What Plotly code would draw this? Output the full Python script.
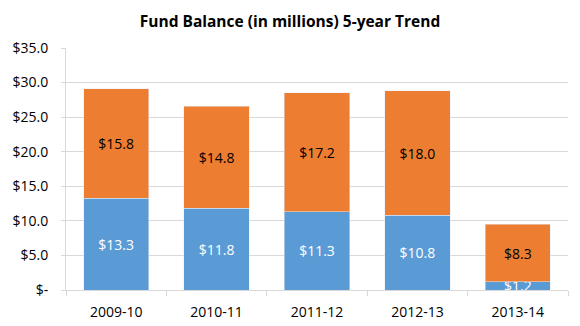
import plotly.graph_objects as go

years = ["2009-10", "2010-11", "2011-12", "2012-13", "2013-14"]
lower_vals = [13.3, 11.8, 11.3, 10.8, 1.2]
upper_vals = [15.8, 14.8, 17.2, 18.0, 8.3]
y_ticks = [0, 5, 10, 15, 20, 25, 30, 35]
y_tick_text = ["$-", "$5.0", "$10.0", "$15.0", "$20.0", "$25.0", "$30.0", "$35.0"]

FONT = "Open Sans, Liberation Sans, sans-serif"
GRID = "#D9D9D9"

fig = go.Figure()
fig.add_trace(go.Bar(
    x=years, y=lower_vals, marker_color="#5B9BD5",
    text=[f"${v:.1f}" for v in lower_vals], textposition="inside",
    insidetextanchor="middle", textangle=0, constraintext="none",
    textfont=dict(color="white", size=14, family=FONT),
    showlegend=False,
))
fig.add_trace(go.Bar(
    x=years, y=upper_vals, marker_color="#ED7D31",
    text=[f"${v:.1f}" for v in upper_vals], textposition="inside",
    insidetextanchor="middle", textangle=0, constraintext="none",
    textfont=dict(color="black", size=14, family=FONT),
    showlegend=False,
))

fig.update_layout(
    barmode="stack", bargap=0.35,
    width=580, height=326,
    margin=dict(l=66, r=12, t=48, b=36),
    paper_bgcolor="white", plot_bgcolor="white",
    title=dict(text="<b>Fund Balance (in millions) 5-year Trend</b>",
               x=0.5, xref="container", xanchor="center",
               y=1 - 22 / 326, yref="container", yanchor="middle",
               font=dict(size=15.5, color="black", family=FONT)),
    font=dict(family=FONT, size=14, color="black"),
)
fig.update_xaxes(
    type="category", automargin=False,
    showgrid=False, showline=True, linecolor=GRID, linewidth=1,
    ticks="outside", tickson="boundaries", ticklen=5, tickcolor=GRID,
    tickfont=dict(size=14, family=FONT, color="black"),
    ticklabelstandoff=9,
)
fig.update_yaxes(
    range=[0, 35], tickvals=y_ticks, ticktext=y_tick_text, automargin=False,
    showgrid=True, gridcolor=GRID, gridwidth=1,
    showline=True, linecolor=GRID, zeroline=False,
    tickfont=dict(size=14, family=FONT, color="black"),
    ticks="outside", ticklen=4, tickcolor=GRID,
    ticklabelstandoff=10,
)

fig.write_html("out.html")
